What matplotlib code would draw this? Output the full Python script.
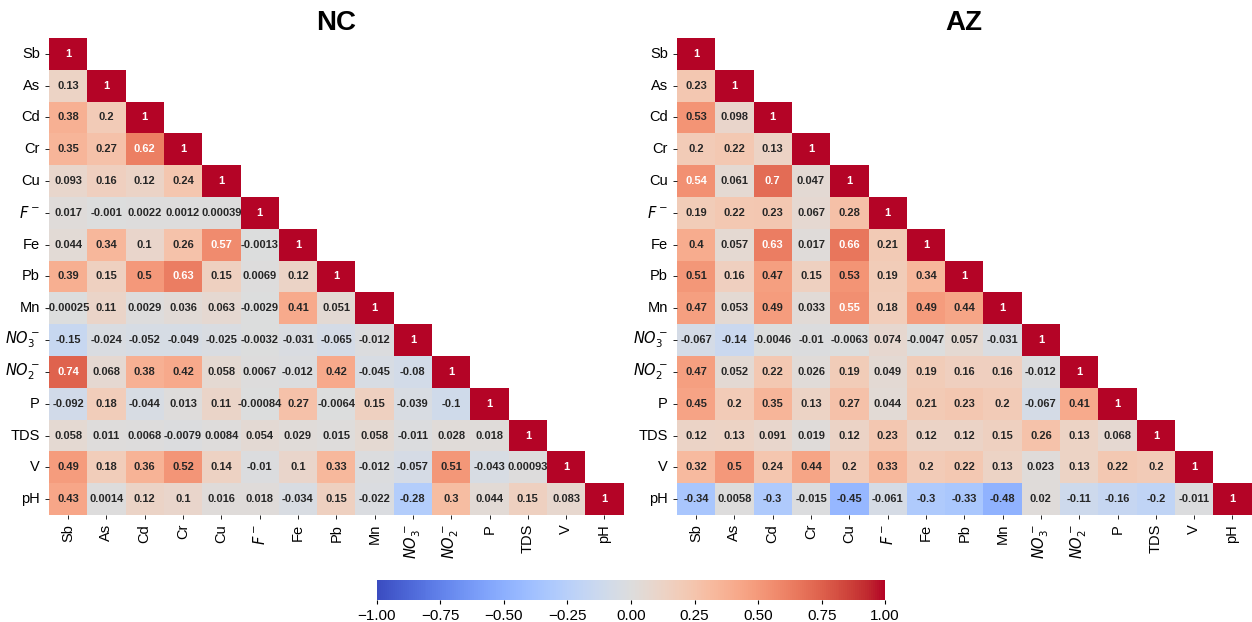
import numpy as np
import matplotlib
matplotlib.use("Agg")
import matplotlib.pyplot as plt
import seaborn as sns

plt.rcParams['font.family'] = ['Liberation Sans', 'DejaVu Sans']

# variables (rows / columns of both matrices)
labels = ["Sb", "As", "Cd", "Cr", "Cu", "$F^-$", "Fe", "Pb", "Mn",
          "$NO_3^-$", "$NO_2^-$", "P", "TDS", "V", "pH"]

# lower triangles, row by row (diagonal = 1)
nc_rows = [
    [1],
    [0.13, 1],
    [0.38, 0.2, 1],
    [0.35, 0.27, 0.62, 1],
    [0.093, 0.16, 0.12, 0.24, 1],
    [0.017, -0.001, 0.0022, 0.0012, 0.00039, 1],
    [0.044, 0.34, 0.1, 0.26, 0.57, -0.0013, 1],
    [0.39, 0.15, 0.5, 0.63, 0.15, 0.0069, 0.12, 1],
    [-0.00025, 0.11, 0.0029, 0.036, 0.063, -0.0029, 0.41, 0.051, 1],
    [-0.15, -0.024, -0.052, -0.049, -0.025, -0.0032, -0.031, -0.065, -0.012, 1],
    [0.74, 0.068, 0.38, 0.42, 0.058, 0.0067, -0.012, 0.42, -0.045, -0.08, 1],
    [-0.092, 0.18, -0.044, 0.013, 0.11, -0.00084, 0.27, -0.0064, 0.15, -0.039, -0.1, 1],
    [0.058, 0.011, 0.0068, -0.0079, 0.0084, 0.054, 0.029, 0.015, 0.058, -0.011, 0.028, 0.018, 1],
    [0.49, 0.18, 0.36, 0.52, 0.14, -0.01, 0.1, 0.33, -0.012, -0.057, 0.51, -0.043, 0.00093, 1],
    [0.43, 0.0014, 0.12, 0.1, 0.016, 0.018, -0.034, 0.15, -0.022, -0.28, 0.3, 0.044, 0.15, 0.083, 1],
]

az_rows = [
    [1],
    [0.23, 1],
    [0.53, 0.098, 1],
    [0.2, 0.22, 0.13, 1],
    [0.54, 0.061, 0.7, 0.047, 1],
    [0.19, 0.22, 0.23, 0.067, 0.28, 1],
    [0.4, 0.057, 0.63, 0.017, 0.66, 0.21, 1],
    [0.51, 0.16, 0.47, 0.15, 0.53, 0.19, 0.34, 1],
    [0.47, 0.053, 0.49, 0.033, 0.55, 0.18, 0.49, 0.44, 1],
    [-0.067, -0.14, -0.0046, -0.01, -0.0063, 0.074, -0.0047, 0.057, -0.031, 1],
    [0.47, 0.052, 0.22, 0.026, 0.19, 0.049, 0.19, 0.16, 0.16, -0.012, 1],
    [0.45, 0.2, 0.35, 0.13, 0.27, 0.044, 0.21, 0.23, 0.2, -0.067, 0.41, 1],
    [0.12, 0.13, 0.091, 0.019, 0.12, 0.23, 0.12, 0.12, 0.15, 0.26, 0.13, 0.068, 1],
    [0.32, 0.5, 0.24, 0.44, 0.2, 0.33, 0.2, 0.22, 0.13, 0.023, 0.13, 0.22, 0.2, 1],
    [-0.34, 0.0058, -0.3, -0.015, -0.45, -0.061, -0.3, -0.33, -0.48, 0.02, -0.11, -0.16, -0.2, -0.011, 1],
]


def to_matrix(rows):
    n = len(rows)
    m = np.full((n, n), np.nan)
    for i, r in enumerate(rows):
        m[i, :len(r)] = r
    return m


nc = to_matrix(nc_rows)
az = to_matrix(az_rows)
mask = np.triu(np.ones_like(nc, dtype=bool), k=1)

fig = plt.figure(figsize=(12.52, 6.22), dpi=100)
ax1 = fig.add_axes([0.0391, 0.172, 0.459, 0.767])
ax2 = fig.add_axes([0.5407, 0.172, 0.459, 0.767])
cax = fig.add_axes([0.301, 0.035, 0.406, 0.032])

for ax, data, title in [(ax1, nc, "NC"), (ax2, az, "AZ")]:
    sns.heatmap(data, mask=mask, ax=ax, cmap="coolwarm", vmin=-1, vmax=1,
                annot=True, fmt=".2g", cbar=False,
                annot_kws={"fontsize": 8, "fontweight": "bold"},
                xticklabels=labels, yticklabels=labels)
    ax.set_title(title, fontsize=20, fontweight="bold", pad=6)
    ax.tick_params(axis="both", labelsize=10.5, length=3, width=0.6)
    plt.setp(ax.get_xticklabels(), rotation=90)
    plt.setp(ax.get_yticklabels(), rotation=0)

cb = fig.colorbar(ax1.collections[0], cax=cax, orientation="horizontal",
                  ticks=np.arange(-1, 1.01, 0.25))
cb.outline.set_visible(False)
cb.ax.tick_params(labelsize=11, length=3)
cb.ax.set_xticklabels([f"{v:.2f}".replace("-", "\u2212") for v in np.arange(-1, 1.01, 0.25)])

fig.savefig("out.png", dpi=100)
